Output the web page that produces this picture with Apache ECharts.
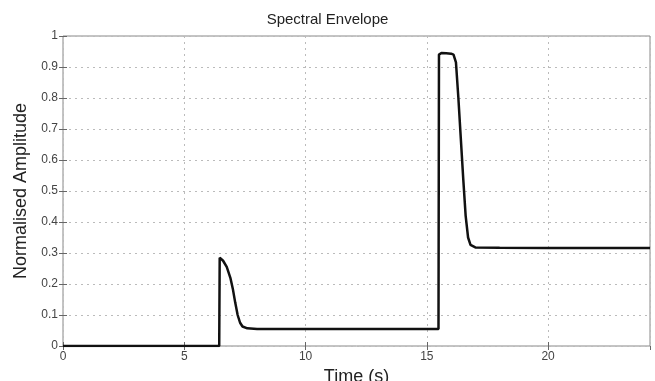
<!DOCTYPE html>
<html>
<head>
<meta charset="utf-8">
<script src="https://cdn.jsdelivr.net/npm/echarts@6/dist/echarts.min.js"></script>
<style>
  html, body { margin: 0; padding: 0; background: #fff; }
  #chart { width: 655px; height: 381px; }
</style>
</head>
<body>
<div id="chart"></div>
<script>
// time (s) and normalised amplitude
const times = [0, 6.44, 6.46, 6.6, 6.75, 6.9, 7.0, 7.1, 7.2, 7.3, 7.4, 7.6, 8.0, 10, 12, 14, 15.48,
  15.5, 15.6, 15.8, 16.0, 16.1, 16.2, 16.3, 16.4, 16.5, 16.6, 16.7, 16.8, 17.0, 18, 20, 22, 24.2];
const amps = [0, 0, 0.285, 0.275, 0.255, 0.22, 0.185, 0.14, 0.1, 0.075, 0.063, 0.057, 0.055, 0.055, 0.055, 0.055, 0.055,
  0.94, 0.945, 0.944, 0.943, 0.94, 0.915, 0.8, 0.67, 0.54, 0.42, 0.35, 0.326, 0.318, 0.317, 0.316, 0.316, 0.316];
const yTicks = [0, 0.1, 0.2, 0.3, 0.4, 0.5, 0.6, 0.7, 0.8, 0.9, 1];

const chart = echarts.init(document.getElementById('chart'));
const tickStyle = { show: true, inside: true, length: 4, lineStyle: { color: '#666' } };
const gridLine = { show: true, lineStyle: { type: [2, 4], color: '#bbb', width: 1 } };
const font = 'Liberation Sans, Arial, sans-serif';

chart.setOption({
  animation: false,
  title: {
    text: 'Spectral Envelope',
    left: 'center',
    top: 7,
    textStyle: { fontFamily: font, fontWeight: 'normal', fontSize: 15, color: '#222' },
  },
  grid: {
    left: 63, right: 5, top: 36, bottom: 35,
    outerBoundsMode: 'none',
    show: true, borderColor: '#888', borderWidth: 1,
  },
  xAxis: [
    {
      type: 'value',
      min: 0,
      max: 24.2,
      interval: 5,
      name: 'Time (s)',
      nameLocation: 'middle',
      nameGap: 19,
      nameTextStyle: { fontFamily: font, fontSize: 18, color: '#222' },
      axisLine: { show: false },
      axisTick: tickStyle,
      splitLine: gridLine,
      axisLabel: { showMaxLabel: false, fontFamily: font, fontSize: 12, color: '#444', margin: 5 },
    },
    {
      type: 'value',
      position: 'top',
      min: 0,
      max: 24.2,
      interval: 5,
      axisLine: { show: false },
      axisTick: tickStyle,
      splitLine: { show: false },
      axisLabel: { show: false },
    },
  ],
  yAxis: [
    {
      type: 'value',
      min: yTicks[0],
      max: yTicks[yTicks.length - 1],
      interval: 0.1,
      name: 'Normalised Amplitude',
      nameLocation: 'middle',
      nameGap: 31,
      nameTextStyle: { fontFamily: font, fontSize: 18, color: '#222' },
      axisLine: { show: false },
      axisTick: tickStyle,
      splitLine: gridLine,
      axisLabel: {
        fontFamily: font, fontSize: 12, color: '#444', margin: 5,
        formatter: v => String(Math.round(v * 10) / 10),
      },
    },
    {
      type: 'value',
      position: 'right',
      min: 0,
      max: 1,
      interval: 0.1,
      axisLine: { show: false },
      axisTick: tickStyle,
      splitLine: { show: false },
      axisLabel: { show: false },
    },
  ],
  series: [{
    type: 'line',
    data: times.map((t, i) => [t, amps[i]]),
    symbol: 'none',
    lineStyle: { color: '#111', width: 2.5 },
  }],
});
</script>
</body>
</html>
